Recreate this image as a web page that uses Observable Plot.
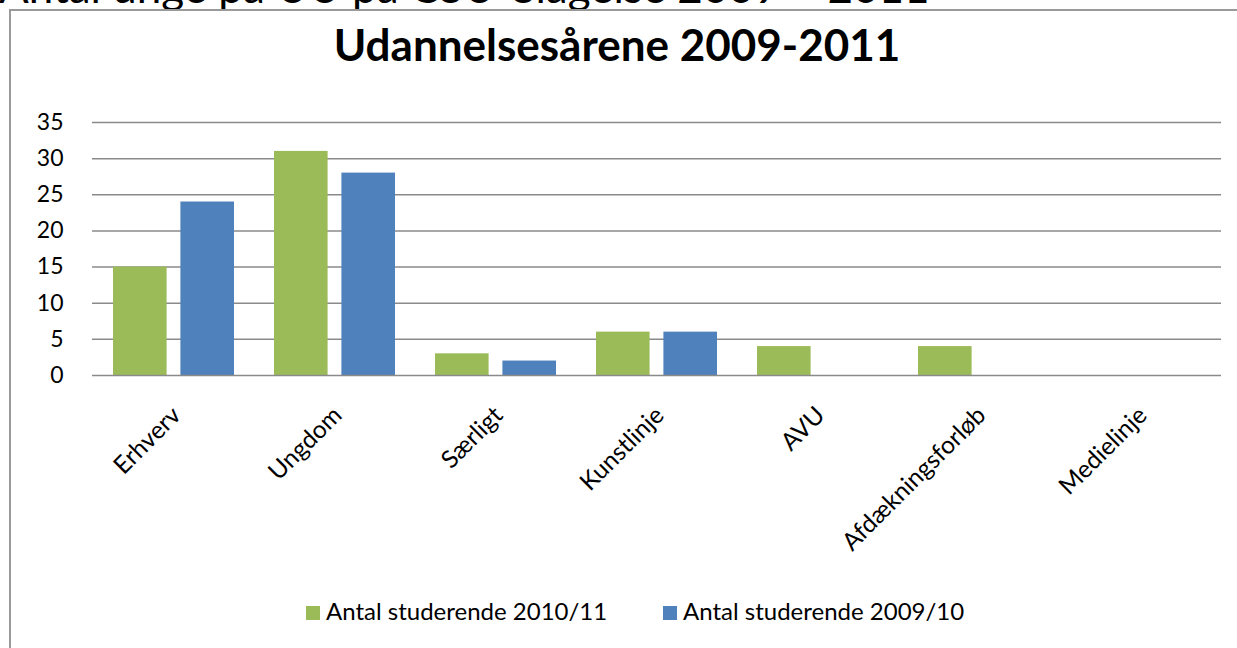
<!DOCTYPE html>
<html>
<head>
<meta charset="utf-8">
<script src="https://cdn.jsdelivr.net/npm/d3@7"></script>
<script src="https://cdn.jsdelivr.net/npm/@observablehq/plot@0.6"></script>
<style>
  html, body { margin: 0; padding: 0; background: #fff; }
  #page { position: relative; width: 1237px; height: 648px; overflow: hidden; font-family: Lato, sans-serif; color: #000; }
  #toptext { position: absolute; left: -1px; top: -36px; font-size: 44px; line-height: 44px; white-space: nowrap; }
  #box { position: absolute; left: 9px; top: 9px; width: 1300px; height: 700px; background: #fff; border-left: 2px solid #9a9a9a; border-top: 2px solid #9a9a9a; }
  #title { position: absolute; left: 0; width: 1234px; top: 20px; text-align: center; font-weight: bold; font-size: 44px; line-height: 48px; }
  #chart { position: absolute; left: 0; top: 100px; }
  #legend { position: absolute; top: 597px; left: 0; width: 1237px; font-size: 24px; line-height: 28px; }
  .item { position: absolute; top: 0; white-space: nowrap; }
  .sw { display: inline-block; width: 14px; height: 14px; margin-right: 6px; vertical-align: 0px; }
</style>
</head>
<body>
<div id="page">
  <div id="toptext">Antal unge på UU på CSU-Slagelse 2009 – 2011</div>
  <div id="box"></div>
  <div id="title">Udannelsesårene 2009-2011</div>
  <div id="chart"></div>
  <div id="legend"></div>
</div>
<script>
const categories = ["Erhverv", "Ungdom", "Særligt", "Kunstlinje", "AVU", "Afdækningsforløb", "Medielinje"];
const series2010 = [15, 31, 3, 6, 4, 4, 0];
const series2009 = [24, 28, 2, 6, 0, 0, 0];
const seriesNames = ["Antal studerende 2010/11", "Antal studerende 2009/10"];
const seriesColors = ["#9BBB59", "#4F81BD"];
const yTicks = [0, 5, 10, 15, 20, 25, 30, 35];

const W = 1237, H = 440;
const mL = 92, mR = 16, mT = 22, mB = 165;
const padInner = 0.247;
const step = (W - mL - mR) / categories.length;
const bw = step * (1 - padInner);
const barW = bw * 0.445;
const groupInset = bw - barW;
const fs = 23;
const fsX = 24.5;

const data2010 = categories.map((c, i) => ({cat: c, v: series2010[i]}));
const data2009 = categories.map((c, i) => ({cat: c, v: series2009[i]}));

const plot = Plot.plot({
  width: W, height: H,
  marginLeft: mL, marginRight: mR, marginTop: mT, marginBottom: mB,
  style: {fontFamily: "Lato, sans-serif", fontSize: fs + "px", color: "#000", background: "transparent", overflow: "visible"},
  x: {domain: categories, paddingInner: padInner, paddingOuter: padInner / 2, axis: null},
  y: {domain: [0, 35], axis: null},
  marks: [
    Plot.ruleY(yTicks.filter(t => t > 0), {stroke: "#8a8a8a", strokeWidth: 1.5}),
    Plot.axisY({ticks: yTicks, tickSize: 0, tickPadding: 29, fontSize: fs, label: null}),
    Plot.barY(data2010, {x: "cat", y: "v", fill: seriesColors[0], insetLeft: 0, insetRight: groupInset}),
    Plot.barY(data2009, {x: "cat", y: "v", fill: seriesColors[1], insetLeft: groupInset, insetRight: 0}),
    Plot.ruleY([0], {stroke: "#8a8a8a", strokeWidth: 1.5}),
    Plot.text(categories, {x: d => d, y: () => 0, rotate: -45, textAnchor: "end", lineAnchor: "top", dx: -4, dy: 29, fontSize: fsX, fill: "#000"})
  ]
});
document.getElementById("chart").appendChild(plot);

const legend = document.getElementById("legend");
const legendX = [306, 663];
seriesNames.forEach((name, i) => {
  const it = document.createElement("div");
  it.className = "item";
  it.style.left = legendX[i] + "px";
  it.innerHTML = `<span class="sw" style="background:${seriesColors[i]}"></span>${name}`;
  legend.appendChild(it);
});
</script>
</body>
</html>
